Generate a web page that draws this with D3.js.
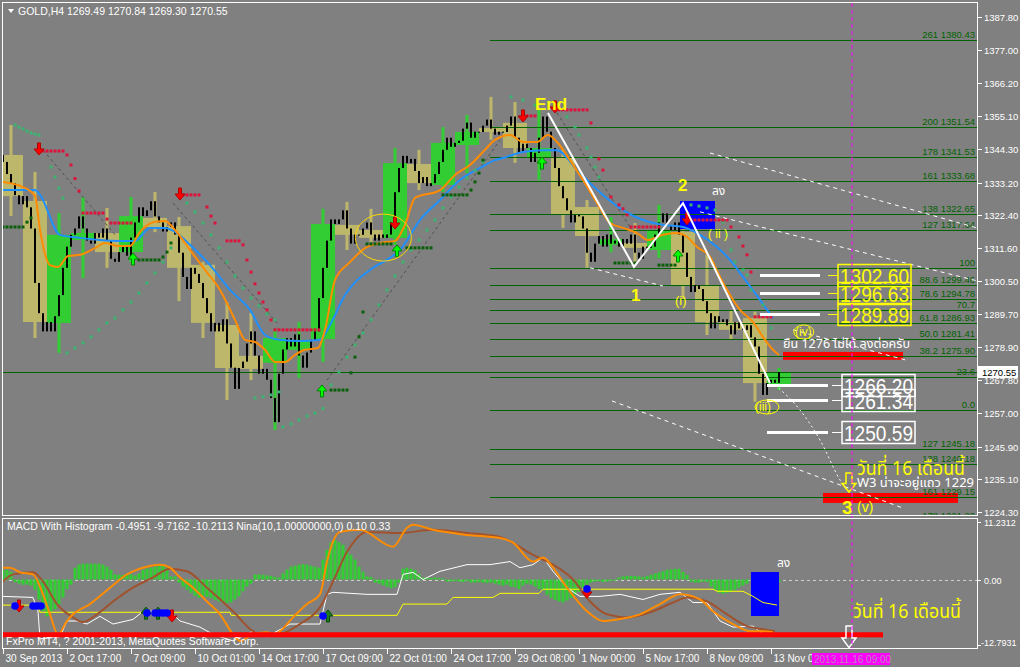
<!DOCTYPE html>
<html><head><meta charset="utf-8">
<script src="https://cdn.jsdelivr.net/npm/d3@7"></script>
<style>
html,body{margin:0;padding:0;background:#808080;overflow:hidden;}
svg{display:block;}
text{font-family:"Liberation Sans",Arial,sans-serif;}
.thai{font-family:"Noto Sans Thai","Tahoma","DejaVu Sans","Noto Sans",sans-serif;}
</style></head><body>
<svg id="c" width="1020" height="667"></svg>
<script>
// ---------------- DATA ----------------
const dayOpen  = [1342.3,1327.1,1286.8,1314.2,1316.5,1310.2,1321.5,1318.8,1306.0,1286.1,1275.9,1273.6,1277.9,1281.5,1319.2,1317.5,1314.9,1339.3,1332.4,1345.6,1351.2,1352.9,1341.3,1341.3,1325.1,1312.6,1313.2,1310.9,1316.9,1299.3,1287.1,1288.4,1266.3];
const dayHigh  = [1352.2,1336.7,1323.1,1328.4,1324.8,1328.4,1330.1,1321.8,1307.0,1293.7,1290.1,1284.5,1287.1,1324.5,1326.8,1324.5,1344.6,1344.0,1351.5,1355.5,1361.5,1359.8,1357.8,1344.0,1327.4,1321.8,1319.8,1325.8,1325.8,1309.3,1291.1,1290.5,1271.9];
const dayLow   = [1322.1,1281.8,1276.9,1301.6,1305.0,1306.9,1316.8,1294.0,1281.8,1261.3,1267.9,1251.4,1268.6,1273.9,1310.9,1313.5,1312.6,1330.7,1330.1,1336.3,1347.3,1339.7,1334.0,1318.2,1305.0,1310.2,1306.9,1308.3,1294.4,1282.8,1281.2,1260.7,1264.6];
const dayClose = [1328.7,1287.1,1315.9,1316.5,1310.2,1322.1,1318.5,1305.0,1286.8,1271.9,1271.6,1281.8,1281.2,1319.5,1315.9,1314.9,1339.6,1333.0,1346.3,1349.9,1349.9,1344.6,1344.6,1322.5,1315.5,1314.5,1311.6,1317.5,1299.3,1287.1,1284.5,1266.9,1270.55];

const h4Close = [
 1340,1336,1333,1329,1326,1328.7, 1325,1318,1300,1290,1284,1287.1, 1284,1289,1296,1305,1312,1315.9,
 1318,1322,1318,1314,1313,1316.5, 1315,1318,1314,1308,1307,1310.2, 1312,1309,1315,1320,1325,1322.1,
 1324,1327,1322,1320,1317,1318.5, 1320,1316,1310,1302,1298,1305.0, 1303,1300,1295,1290,1284,1286.8,
 1284,1288,1280,1272,1265,1271.9, 1274,1280,1284,1276,1270,1271.6, 1268,1262,1254,1270,1278,1281.8,
 1279,1283,1276,1272,1277,1281.2, 1284,1295,1305,1314,1321,1319.5, 1321,1324,1318,1313,1316,1315.9,
 1318,1320,1316,1314,1316,1314.9, 1316,1320,1330,1338,1342,1339.6, 1341,1337,1333,1335,1332,1333.0,
 1336,1340,1344,1348,1345,1346.3, 1347,1351,1353,1348,1350,1349.9, 1352,1354,1351,1349,1350,1349.9,
 1352,1355,1348,1343,1346,1344.6, 1340,1343,1348,1355,1350,1344.6, 1338,1332,1328,1324,1320,1322.5,
 1322,1318,1310,1307,1313,1315.5, 1312,1316,1313,1314,1312,1314.5, 1313,1316,1310,1308,1312,1311.6,
 1312,1316,1320,1323,1319,1317.5, 1320,1316,1310,1302,1297,1299.3, 1298,1294,1290,1285,1289,1287.1,
 1288,1286,1283,1287,1285,1284.5, 1286,1282,1279,1270,1263,1266.9, 1268,1267,1270.55];

const priceTicks = [1387.80,1377.00,1366.20,1355.10,1344.30,1333.20,1322.40,1311.60,1300.50,1289.70,1278.90,1267.80,1257.00,1245.90,1235.10,1224.30];
const timeLabels = ["30 Sep 2013","2 Oct 17:00","7 Oct 09:00","10 Oct 01:00","14 Oct 17:00","17 Oct 09:00","22 Oct 01:00","24 Oct 17:00","29 Oct 08:00","1 Nov 00:00","5 Nov 17:00","8 Nov 09:00","13 Nov 01:00"];
const timeLabelBars = [0,16,32,48,64,80,96,112,128,144,160,176,192];

const emaFast = [[0,1333.4],[5,1331.7],[8,1328.8],[9.25,1317.5],[11.75,1305.9],[13.75,1305.3],[16.25,1308.9],[19.25,1309.3],[23,1311.5],[25.5,1313.2],[28.75,1312.2],[31.75,1312.2],[34.25,1316.9],[38,1320.2],[40.5,1320.5],[43,1317.5],[46.75,1310.9],[50.5,1304.3],[54.25,1297.7],[58,1287.8],[60.5,1281.2],[63,1280.5],[65.5,1277.9],[68,1273.9],[70.5,1273.9],[73,1276.2],[75.5,1277.9],[78.75,1278.5],[80.5,1284.5],[83,1301.0],[86.75,1306.9],[90.5,1311.5],[94.25,1313.2],[98,1313.9],[100.5,1319.2],[103,1328.1],[109.25,1330.7],[113,1335.7],[116.75,1339.0],[120.5,1344.0],[123,1347.3],[126.75,1348.9],[130,1346.6],[133.5,1346.6],[136.25,1348.9],[138.5,1346.6],[141.75,1340.6],[145,1334.0],[148.5,1326.4],[151.75,1319.8],[155,1318.2],[158.5,1316.5],[161.25,1314.2],[165,1315.9],[168.5,1316.5],[171,1315.2],[173.5,1311.9],[176.75,1308.6],[179.25,1302.0],[184.25,1291.1],[187.5,1287.1],[190,1282.1],[192.5,1277.9],[194,1276.2]];
const emaSlow = [[0,1330.7],[8,1330.7],[9.25,1329.1],[14.25,1315.9],[19.25,1314.9],[24.25,1314.2],[29.25,1313.9],[33,1313.9],[36.75,1318.2],[40.5,1318.2],[43,1316.9],[46.75,1312.6],[51.75,1305.9],[56.75,1297.7],[61.75,1291.1],[65.5,1282.8],[69.25,1281.2],[74.25,1280.8],[79.25,1281.2],[81.75,1286.1],[85.5,1296.0],[91.75,1304.3],[96.75,1308.3],[99.25,1310.9],[104.25,1320.8],[109.25,1327.4],[114.25,1334.0],[119.25,1338.0],[123,1340.6],[125,1341.3],[130,1343.3],[135,1343.9],[138.5,1343.9],[143.5,1337.3],[146.75,1333.0],[150,1329.1],[155,1324.1],[160,1320.8],[165,1319.2],[170,1318.5],[173.5,1316.5],[178.5,1311.9],[181.75,1307.6],[185,1302.0],[189.25,1294.4],[192.5,1288.4]];

const sarRed = [[9,1343.6],[10,1343.6],[11,1343.6],[12,1343.6],[13,1343.6],[14,1343.6],[15,1343.6],[16,1342.3],[17,1339.0],[18,1334.5],[19,1330.4],
 [20,1323.1],[21,1323.1],[22,1323.1],[23,1323.1],[24,1323.1],[25,1323.1],[26,1321.1],[27,1319.8],[28,1319.8],[29,1319.8],[30,1319.8],[31,1319.8],[32,1319.8],
 [44,1329.1],[45,1329.1],[46,1329.1],[47,1329.1],[48,1329.1],[49,1329.1],[51,1325.1],[52,1322.1],[53,1319.8],[56,1313.9],[57,1313.9],[58,1313.9],[59,1313.9],[60,1312.6],[61,1307.6],[62,1303.6],[63,1299.7],[64,1296.7],[65,1293.7],[66,1291.1],[67,1287.8],
 [68,1284.5],[69,1284.5],[70,1284.5],[71,1284.5],[72,1284.5],[73,1284.5],[74,1284.5],[75,1284.5],[76,1284.5],[77,1284.5],[78,1284.5],[79,1284.5],
 [130,1355.2],[131,1355.2],[132,1355.2],[133,1355.2],[138,1357.2],[139,1357.2],[140,1357.2],[141,1357.2],[142,1357.2],[143,1357.2],[144,1357.2],[145,1357.2],[146,1357.2],
 [147,1352.9],[149,1341.0],[150,1337.3],[152,1328.4],[154,1325.8],[155,1324.5],[156,1322.5],
 [157,1318.5],[158,1318.5],[159,1318.5],[160,1318.5],[161,1318.5],[162,1318.5],[163,1318.5],[164,1318.5],
 [172,1320.8],[173,1320.8],[174,1320.8],[175,1320.8],[176,1320.8],[177,1320.8],[178,1320.8],[179,1320.8],[180,1320.8],[181,1320.8],
 [182,1318.5],[184,1315.2],[185,1312.2],[186,1309.3],[187,1303.6],[188,1288.8],[189,1288.8],[190,1288.8],[191,1288.8],[192,1288.8]];
const sarGreen = [[0,1318.5],[1,1318.5],[2,1318.5],[3,1318.5],[4,1318.5],[5,1318.5],[6,1320.1],[7,1321.5],
 [34,1307.6],[35,1307.6],[36,1307.6],[37,1307.6],[38,1307.6],[39,1307.6],[40,1308.6],[41,1310.2],[42,1313.2],
 [82,1264.6],[83,1264.6],[84,1264.6],[85,1264.6],[86,1264.6],[87,1270.3],[88,1275.5],[89,1282.2],[90,1290.4],
 [91,1312.9],[92,1312.9],[93,1312.9],[94,1312.9],[95,1312.9],[96,1312.9],[97,1312.9],
 [101,1311.6],[102,1311.6],[103,1311.6],[104,1311.6],[105,1311.6],[106,1311.6],[107,1311.6],
 [110,1329.1],[111,1329.1],[112,1329.1],[113,1329.1],[114,1329.1],[115,1329.1],[116,1329.1],[117,1330.7],[118,1333.4],[119,1336.3],[120,1340.6],
 [153,1306.6],[154,1306.6],[155,1306.6],[156,1306.6],[157,1306.6],[158,1306.6],
 [164,1305.9],[165,1305.9],[166,1305.9],[167,1305.9],[168,1305.9]];
const sarTeal = [[3,1352.2],[4,1351.5],[5,1350.9],[6,1350.2],[7,1349.6],[8,1349.2],[9,1348.9],[12,1338.3],[13,1335.0],[14,1331.3],[15,1328.0],
 [16,1276.9],[18,1278.5],[20,1280.2],[22,1282.2],[24,1284.5],[26,1286.8],[28,1288.4],[30,1291.1],[32,1293.7],[34,1296.7],[36,1300.0],[38,1303.3],[40,1306.9],[42,1311.6],
 [46,1326.4],[48,1323.5],[50,1319.8],[52,1315.9],[54,1311.6],[56,1306.9],[58,1302.3],[60,1298.3],[62,1295.0],[64,1292.4],[66,1289.8],[68,1287.8],
 [63,1262.0],[65,1262.4],[67,1263.0],[69,1264.0],[70,1252.4],[72,1253.4],[74,1254.7],[76,1256.0],[78,1257.0],[80,1258.5],
 [82,1266.3],[84,1270.6],[86,1275.5],[88,1279.5],[90,1283.5],[92,1287.8],[94,1292.7],[96,1297.7],[98,1302.3],[100,1306.9],[102,1310.9],[104,1314.2],[106,1317.5],[108,1320.8],[110,1324.8],[112,1328.4],[114,1331.7],[116,1334.7],[118,1337.3],[120,1340.0],
 [127,1361.5],[130,1360.5],[133,1358.8],[141,1354.9],[143,1351.5],[144,1348.9],[146,1344.6],[147,1341.6],[148,1338.3],[149,1335.0],
 [172,1325.8],[174,1325.4],[176,1324.8],[178,1324.1],[180,1320.2],[181,1315.9],[182,1310.9],[183,1306.9],[185,1304.3],[186,1302.6],[187,1297.7],[190,1292.7],[192,1285.1]];

const greyLines = [[[10,1343.9],[28.5,1315.2]],[[42.5,1326.4],[68.5,1286.8]],[[81,1267.9],[124.25,1347.2]],[[138.5,1356.2],[156.75,1318.5]]];
const arrowsDown = [[9,1342.3],[44.25,1327.4],[98,1317.8],[130,1353.2],[138,1356.2],[171,1319.2]];
const arrowsUp = [[32.5,1309.9],[79.75,1266.3],[98.5,1312.6],[134.75,1341.6],[168.75,1310.9]];

const fibLevels = ["261","200","178","161","138","127","100","88.6","78.6","70.7","61.8","50.0","38.2","23.6","0.0","127","138","161","178"];
const fibPrices = [1380.43,1351.54,1341.53,1333.68,1322.65,1317.64,1304.80,1299.46,1294.78,1291.10,1286.93,1281.41,1275.90,1269.05,1258.00,1245.18,1240.18,1229.15,1221.20];
const fibShowPrice = [1,1,1,1,1,1,0,1,1,0,1,1,1,0,0,1,1,1,1];
const fibStartBar = 121.75;

const waveZigzag = [[136.25,1356.2],[157.75,1305.3],[170,1326.4],[191.75,1266.9]];
const projection = [[193,1266.3],[199.25,1258.0],[204.25,1248.1],[209.25,1234.9],[211.25,1231.0]];
const dashedLines = [[[176.75,1342.96],[243.5,1318.2]],[[174.25,1323.5],[243.5,1300.7]],[[152.25,1261.0],[225,1225.6]],[[197.5,1284.5],[225.5,1274.6]],[[146.75,1305.0],[165,1299.0]]];

const yellowMarks = [1302.60,1296.63,1289.89];
const whiteMarks = [1266.20,1261.34,1250.59];
const lastPrice = 1270.55;

// MACD window
const macdHist = [1.9,1.9,1.5,-0.5,-0.8,-1.0,-1.0,-1.2,-2.0,-3.9,-6.2,-7.2,-6.2,-5.8,-4.8,-3.5,-1.9,-1.0,2.3,2.9,3.1,3.1,3.1,3.1,3.1,2.9,2.5,1.9,1.0,0.9,0.9,1.0,1.0,0.8,1.2,1.9,2.1,2.3,2.5,2.7,2.7,2.3,0.6,0.6,-0.6,-1.4,-2.0,-2.6,-3.2,-3.6,-3.2,-3.4,-3.6,-4.0,-4.3,-4.5,-4.6,-4.5,-3.9,-3.3,-2.3,-1.4,-0.8,1.0,1.0,0.9,0.8,0.7,0.5,0.4,1.2,1.9,2.5,2.7,2.9,3.0,2.9,2.7,2.5,2.3,3.9,5.8,7.2,7.7,7.3,6.8,5.8,4.8,3.9,2.5,1.5,0.6,0.5,-0.6,-0.8,-1.1,-1.4,-1.7,-1.5,-0.6,2.1,2.3,2.1,1.8,1.1,0.4,0.4,0.3,0.4,0.3,0.2,-0.4,-0.4,-0.3,-0.4,-0.5,-0.3,-0.6,-0.6,-0.5,-0.6,-0.7,-0.6,-0.8,-1.0,-1.2,-1.0,-1.4,-1.5,-1.9,-1.2,-0.8,-1.0,-1.4,-1.9,-2.0,-3.0,-3.6,-4.0,-4.3,-4.5,-4.1,-3.6,-3.0,-2.4,-1.6,-1.0,-0.6,-0.4,-0.3,-0.5,-0.4,-0.3,-0.2,0.4,0.6,0.7,0.7,0.7,0.6,0.5,0.7,0.9,1.2,1.4,1.6,1.9,2.0,2.1,2.1,1.5,0.9,-0.4,-0.6,-0.6,-0.4,-0.5,-1.4,-2.0,-2.6,-2.8,-2.6,-2.4,-2.0,-1.6,-1.2,-0.8,0.1,-0.5,-0.7,-0.6,-0.9,-0.6,-0.5,-0.5];
const macdOrange = [[0,2.3],[1.75,2.3],[4.25,1.4],[7.5,1.0],[10,-2.9],[11.75,-6.8],[13.75,-10.7],[16,-8.1],[17.5,-6.8],[21.75,-4.8],[26.75,-1.6],[31,1.0],[35,2.3],[39.25,2.9],[41.75,2.3],[44.25,0.4],[47.5,-1.6],[51,-4.3],[54.25,-6.8],[57.5,-10.7],[59.25,-12.0],[62.5,-10.7],[66,-10.3],[67.5,-10.7],[69.25,-10.1],[72.5,-7.4],[76,-4.8],[79.25,-2.9],[81,3.5],[82.5,7.4],[84.25,9.3],[89.25,9.7],[97.5,6.4],[101,10.1],[102.5,10.7],[107.5,9.7],[116,8.7],[124.25,8.1],[127.5,7.2],[132.5,3.5],[135,4.3],[137.5,2.3],[141,-1.6],[146,-6.2],[150,-8.1],[153.5,-7.8],[159.25,-6.8],[164.25,-4.8],[169.25,-2.9],[174.25,-3.9],[177.5,-6.2],[182.5,-8.7],[186.75,-10.1],[190,-10.1],[192.5,-10.3]];
const macdBrown = [[0,-0.4],[2.5,1.0],[7.5,1.4],[10,-0.4],[13.5,-4.8],[17.5,-7.4],[20,-8.3],[23.5,-6.8],[27.5,-4.3],[32.5,-1.6],[37.5,0.4],[41.75,2.1],[46,1.6],[51,-1.6],[57.5,-6.2],[62.5,-10.1],[66,-11.0],[69.25,-10.7],[74.25,-8.7],[79.25,-5.4],[82.5,-0.4],[86,5.4],[91,9.3],[99.25,9.1],[107.5,9.7],[116,9.1],[124.25,8.3],[132.5,4.8],[137.5,2.9],[142.5,0],[146.75,-4.3],[151,-6.8],[156,-7.4],[161.75,-6.4],[167.5,-4.5],[171,-3.5],[176,-4.3],[181,-6.8],[186,-9.1],[190,-9.7],[193,-10.1]];
const macdWhite = [[0,-3.3],[7.5,-3.5],[8.75,-6.2],[9.25,-11.6],[14.25,-11.2],[16,-8.1],[18.5,-8.1],[21,-8.7],[24.25,-7.2],[27.5,-8.7],[32.5,-7.8],[35,-6.2],[41.75,-6.2],[44.25,-8.1],[49.25,-9.3],[52.5,-10.7],[57.5,-12.0],[62.5,-10.1],[66,-11.2],[68.5,-10.1],[71.75,-8.7],[79.25,-8.7],[81,-2.9],[82.5,-2.5],[91,-2.9],[98.5,-2.9],[100,1.0],[102.5,1.4],[105,0],[109.25,1.6],[116,2.9],[121.75,2.9],[126.75,3.5],[129.25,2.3],[132.5,2.9],[135,4.3],[137.5,1.6],[141,-1.6],[144.25,-3.3],[149.25,-3.3],[154.25,-2.9],[160,-3.9],[164.25,-2.9],[169.25,-2.5],[172.5,-4.5],[176,-4.5],[179.25,-8.1],[182.5,-9.3],[187.5,-9.1],[190,-10.7],[191.75,-11.2]];
const macdYellow = [[0,-5.0],[8.5,-5.0],[9.25,-6.4],[56.75,-6.4],[57,-7.0],[98.5,-7.0],[100,-4.8],[111,-4.8],[112.5,-3.5],[122.5,-3.5],[124.25,-2.7],[134,-2.7],[135,-1.9],[177.5,-1.9],[178.5,-2.3],[185,-2.3],[187.5,-3.3],[190,-4.5],[193.5,-5.0]];
const macdBlueDots = [[3,-5.17],[7.5,-5.17],[8.5,-5.17],[9.5,-5.17],[36,-6.54],[38,-6.54],[39,-6.54],[40,-6.54],[41,-6.54],[80,-7.13],[146,-1.86]];
const macdDownArrows = [[4,-6.35],[42.25,-8.3],[146,-3.6]];
const macdUpArrows = [[35.75,-5.4],[38.75,-5.4],[81.25,-5.95]];
const macdRange = [-12.7931, 11.2312];

// ---------------- DRAW ----------------
const svg = d3.select("#c");
const x = d3.scaleLinear().domain([0,243.5]).range([3,977]);
const y = d3.scaleLinear().domain([1224.3,1387.8]).range([512,17.3]);
const ym = d3.scaleLinear().domain(macdRange).range([645,522]);

svg.append("rect").attr("width",1020).attr("height",667).attr("fill","#808080");
const defs = svg.append("defs");
defs.append("clipPath").attr("id","cm").append("rect").attr("x",3).attr("y",3).attr("width",974).attr("height",512);
defs.append("clipPath").attr("id","cd").append("rect").attr("x",3).attr("y",519).attr("width",974).attr("height",129);

const gm = svg.append("g").attr("clip-path","url(#cm)");
const gd = svg.append("g").attr("clip-path","url(#cd)");

const KHAKI="#BDB76B", GREEN="#32CD32", FIB="#006400";

// D1 candles as boxes
const days = d3.range(dayOpen.length);
gm.selectAll(".dw").data(days).join("rect")
  .attr("x",k=>x(6*k+2)-1.5).attr("width",3)
  .attr("y",k=>y(dayHigh[k])).attr("height",k=>y(dayLow[k])-y(dayHigh[k]))
  .attr("fill",k=>dayClose[k]>=dayOpen[k]?GREEN:KHAKI);
gm.selectAll(".db").data(days).join("rect")
  .attr("x",k=>x(6*k-1)).attr("width",x(6)-x(0))
  .attr("y",k=>y(Math.max(dayOpen[k],dayClose[k])))
  .attr("height",k=>Math.max(1,Math.abs(y(dayOpen[k])-y(dayClose[k]))))
  .attr("fill",k=>dayClose[k]>=dayOpen[k]?GREEN:KHAKI);

// blue rectangle near wave 2
gm.append("rect").attr("x",x(169.25)).attr("width",x(178)-x(169.25)).attr("y",y(1327.1)).attr("height",y(1317.8)-y(1327.1)).attr("fill","#0000FF");

// red bars
gm.append("rect").attr("x",x(195)).attr("width",x(225)-x(195)).attr("y",y(1277.2)).attr("height",y(1274.6)-y(1277.2)).attr("fill","#FF0000");
gm.append("rect").attr("x",x(205)).attr("width",x(238.75)-x(205)).attr("y",y(1230.6)).attr("height",y(1227.3)-y(1230.6)).attr("fill","#FF0000");

// fib lines
const fibIdx = d3.range(fibPrices.length);
gm.selectAll(".fl").data(fibIdx).join("line")
  .attr("x1",x(fibStartBar)).attr("x2",977)
  .attr("y1",i=>Math.round(y(fibPrices[i]))+0.5).attr("y2",i=>Math.round(y(fibPrices[i]))+0.5)
  .attr("stroke",FIB).attr("stroke-width",1);
gm.selectAll(".ft").data(fibIdx).join("text")
  .attr("x",975).attr("y",i=>Math.round(y(fibPrices[i]))-2)
  .attr("text-anchor","end").attr("font-size",9.5).attr("fill",FIB)
  .text(i=>fibShowPrice[i]?fibLevels[i]+"  "+fibPrices[i].toFixed(2):fibLevels[i]);

// current price line
gm.append("line").attr("x1",3).attr("x2",977).attr("y1",Math.round(y(lastPrice))+0.5).attr("y2",Math.round(y(lastPrice))+0.5).attr("stroke",FIB);

// grey dashed trend lines
gm.selectAll(".gl").data(greyLines).join("line")
  .attr("x1",d=>x(d[0][0])).attr("y1",d=>y(d[0][1])).attr("x2",d=>x(d[1][0])).attr("y2",d=>y(d[1][1]))
  .attr("stroke","#505050").attr("stroke-dasharray","3,3");

// H4 bars
gm.selectAll(".h4").data(h4Close).join("rect")
  .attr("x",(c,i)=>x(i)-1).attr("width",2)
  .attr("y",(c,i)=>{const o=i?h4Close[i-1]:dayOpen[0];return y(Math.max(o,c));})
  .attr("height",(c,i)=>{const o=i?h4Close[i-1]:dayOpen[0];return Math.max(1,Math.abs(y(o)-y(c)));})
  .attr("fill","#000");

// MAs
const ln = d3.line().x(d=>x(d[0])).y(d=>y(d[1])).curve(d3.curveMonotoneX);
gm.append("path").attr("d",ln(emaSlow)).attr("fill","none").attr("stroke","#1E90FF").attr("stroke-width",2);
gm.append("path").attr("d",ln(emaFast)).attr("fill","none").attr("stroke","#FF8C00").attr("stroke-width",2);

// SAR dots
function dots(data,col){
  gm.selectAll(null).data(data).join("rect").attr("x",d=>x(d[0])-1.5).attr("y",d=>y(d[1])-1.5).attr("width",3).attr("height",3).attr("fill",col);
}
dots(sarTeal,"#3CB371"); dots(sarGreen,"#0B5F0B"); dots(sarRed,"#DC143C");

// arrows
function arrow(g,cx,ty,dir,fill,stroke){
  const s=dir; // 1 = down (tip at bottom), -1 = up
  const p=[[cx-1.5,ty-12*s],[cx+1.5,ty-12*s],[cx+1.5,ty-6*s],[cx+5,ty-6*s],[cx,ty],[cx-5,ty-6*s],[cx-1.5,ty-6*s]];
  g.append("path").attr("d","M"+p.map(q=>q.join(",")).join("L")+"Z").attr("fill",fill).attr("stroke",stroke||"none").attr("stroke-width",1);
}
arrowsDown.forEach(d=>arrow(gm,x(d[0]),y(d[1]),1,"#FF0000","#B00000"));
arrowsUp.forEach(d=>arrow(gm,x(d[0]),y(d[1]),-1,"#00FF00","#008000"));

// yellow circle
gm.append("ellipse").attr("cx",x(95.1)).attr("cy",y(1315.0)).attr("rx",28).attr("ry",23.5).attr("fill","none").attr("stroke","#FFD700").attr("stroke-width",1);

// white dashed lines
gm.selectAll(".wd").data(dashedLines).join("line")
  .attr("x1",d=>x(d[0][0])).attr("y1",d=>y(d[0][1])).attr("x2",d=>x(d[1][0])).attr("y2",d=>y(d[1][1]))
  .attr("stroke","#fff").attr("stroke-dasharray","4,4");
// wave zigzag
gm.append("path").attr("d",d3.line().x(d=>x(d[0])).y(d=>y(d[1]))(waveZigzag)).attr("fill","none").attr("stroke","#fff").attr("stroke-width",2);
gm.append("path").attr("d",d3.line().x(d=>x(d[0])).y(d=>y(d[1])).curve(d3.curveMonotoneX)(projection)).attr("fill","none").attr("stroke","#fff").attr("stroke-dasharray","2,3");

// magenta vertical line
svg.append("line").attr("x1",x(212.25)).attr("x2",x(212.25)).attr("y1",3).attr("y2",650).attr("stroke","#FF00FF").attr("stroke-dasharray","4,3");

// price marks
function marks(vals,col,lx1,lx2,tx1,tx2,bx1,bx2){
  vals.forEach(v=>{
    const yy=Math.round(y(v))+0.5;
    gm.append("line").attr("x1",x(lx1)).attr("x2",x(lx2)).attr("y1",yy).attr("y2",yy).attr("stroke","#fff").attr("stroke-width",3);
    gm.append("line").attr("x1",x(tx1)).attr("x2",x(tx2)).attr("y1",yy).attr("y2",yy).attr("stroke",col).attr("stroke-width",1);
    gm.append("rect").attr("x",x(bx1)).attr("y",yy-11).attr("width",x(bx2)-x(bx1)).attr("height",22).attr("fill","none").attr("stroke",col).attr("stroke-width",1.5);
    gm.append("text").attr("x",(x(bx1)+x(bx2))/2).attr("y",yy+8).attr("text-anchor","middle").attr("font-size",22)
      .attr("textLength",x(bx2)-x(bx1)-4).attr("lengthAdjust","spacingAndGlyphs").attr("fill",col).text(v.toFixed(2));
  });
}
marks(yellowMarks,"#FFFF00",189.25,204.25,206.25,208.75,208.75,227);
marks(whiteMarks,"#FFFFFF",191,206.25,207.25,209.75,209.75,228);

// annotations
function txt(g,i,v,s,opt){
  const t=g.append("text").attr("x",x(i)).attr("y",(opt.sc||y)(v)).text(s)
   .attr("fill",opt.fill||"#FFFF00").attr("font-size",opt.size||12);
  if(opt.serif) t.attr("font-family","Liberation Serif, serif");
  if(opt.bold) t.attr("font-weight","bold");
  if(opt.cls) t.attr("class",opt.cls);
  if(opt.len) t.attr("textLength",opt.len).attr("lengthAdjust","spacingAndGlyphs");
  return t;
}
txt(gm,133,1357.2,"End",{serif:1,bold:1,size:17});
txt(gm,168.75,1330.4,"2",{serif:1,bold:1,size:17});
txt(gm,157,1294.0,"1",{serif:1,bold:1,size:17});
txt(gm,209.75,1223.6,"3",{serif:1,bold:1,size:19});
txt(gm,213.5,1224.3,"(v)",{serif:1,size:14});
txt(gm,168,1292.7,"(i)",{serif:1,size:13});
txt(gm,176.25,1314.9,"( ii )",{serif:1,size:12});
txt(gm,188,1257.7,"(iii)",{serif:1,size:12});
txt(gm,198,1282.5,"(iv)",{serif:1,size:12});
gm.append("ellipse").attr("cx",x(200.2)).attr("cy",y(1283.8)).attr("rx",10).attr("ry",7).attr("fill","none").attr("stroke","#FFFF00");
gm.append("ellipse").attr("cx",x(191)).attr("cy",y(1259.0)).attr("rx",12).attr("ry",7).attr("fill","none").attr("stroke","#FFFF00");
txt(gm,177.25,1329.1,"ลง",{fill:"#fff",size:12,cls:"thai"});
txt(gm,195,1278.5,"ยืน 1276 ไม่ได้ ลงต่อครับ",{fill:"#fff",size:13,cls:"thai",len:127});
txt(gm,213.5,1236.5,"วันที่ 16 เดือนนี้",{fill:"#FFFF00",size:20,cls:"thai",len:108});
txt(gm,213.5,1232.6,"W3 น่าจะอยู่แถว 1229",{fill:"#fff",size:12.5,cls:"thai",len:117});

// hollow arrow
function hollow(g,cx,top,tip,col){
  const mid=top+(tip-top)*0.55;
  const p=[[cx-3,top],[cx+3,top],[cx+3,mid],[cx+7,mid],[cx,tip],[cx-7,mid],[cx-3,mid]];
  g.append("path").attr("d","M"+p.map(q=>q.join(",")).join("L")+"Z").attr("fill","none").attr("stroke",col).attr("stroke-width",1.5);
}
hollow(gm,x(211.5),y(1237.2),y(1230.9),"#FFFF00");

// header
svg.append("path").attr("d","M8,9L14,9L11,13Z").attr("fill","#fff");
svg.append("text").attr("x",18).attr("y",15).attr("font-size",10.5).attr("fill","#fff").text("GOLD,H4  1269.49 1270.84 1269.30 1270.55");

// ---- MACD window ----
gd.append("line").attr("x1",3).attr("x2",977).attr("y1",Math.round(ym(0))+0.5).attr("y2",Math.round(ym(0))+0.5).attr("stroke","#D0D0D0").attr("stroke-dasharray","3,3");
gd.selectAll(".hb").data(macdHist).join("rect")
  .attr("x",(v,i)=>x(i)-1.5).attr("width",3)
  .attr("y",v=>ym(Math.max(0,v))).attr("height",v=>Math.abs(ym(v)-ym(0)))
  .attr("fill","#32CD32");
gd.append("rect").attr("x",x(187)).attr("width",x(194)-x(187)).attr("y",ym(1.46)).attr("height",ym(-7.13)-ym(1.46)).attr("fill","#0000FF");
const lm = d3.line().x(d=>x(d[0])).y(d=>ym(d[1]));
gd.append("path").attr("d",lm(macdYellow)).attr("fill","none").attr("stroke","#FFFF00").attr("stroke-width",1);
gd.append("path").attr("d",lm(macdWhite)).attr("fill","none").attr("stroke","#fff").attr("stroke-width",1);
const lmc = d3.line().x(d=>x(d[0])).y(d=>ym(d[1])).curve(d3.curveMonotoneX);
gd.append("path").attr("d",lmc(macdBrown)).attr("fill","none").attr("stroke","#A0522D").attr("stroke-width",2);
gd.append("path").attr("d",lmc(macdOrange)).attr("fill","none").attr("stroke","#FF8C00").attr("stroke-width",2);
gd.append("rect").attr("x",3).attr("width",x(220)-3).attr("y",ym(-10.3)).attr("height",ym(-11.3)-ym(-10.3)).attr("fill","#FF0000");
macdDownArrows.forEach(d=>arrow(gd,x(d[0]),ym(d[1]),1,"#FF0000","#B00000"));
macdUpArrows.forEach(d=>arrow(gd,x(d[0]),ym(d[1]),-1,"#1E7A1E","#005000"));
gd.selectAll(".bd").data(macdBlueDots).join("circle").attr("cx",d=>x(d[0])).attr("cy",d=>ym(d[1])).attr("r",3.8).attr("fill","#0000FF");
txt(gd,193.5,2.44,"ลง",{fill:"#fff",size:12,cls:"thai",sc:ym});
txt(gd,212.5,-7.52,"วันที่ 16 เดือนนี้",{fill:"#FFFF00",size:20,cls:"thai",sc:ym,len:108});
hollow(gd,x(211.5),ym(-9.1),ym(-13.3),"#fff");
svg.append("text").attr("x",7).attr("y",530).attr("font-size",10.5).attr("fill","#fff").text("MACD With Histogram -0.4951 -9.7162 -10.2113  Nina(10,1.00000000,0) 0.10 0.33");
svg.append("text").attr("x",6).attr("y",645).attr("font-size",10.5).attr("fill","#fff").text("FxPro MT4, ? 2001-2013, MetaQuotes Software Corp.");

// ---- frames ----
const fr = svg.append("g").attr("fill","none").attr("stroke","#fff").attr("stroke-width",1);
fr.append("rect").attr("x",2.5).attr("y",2.5).attr("width",975).attr("height",513);
fr.append("rect").attr("x",2.5).attr("y",518.5).attr("width",975).attr("height",130);

// ---- price axis ----
const pa = svg.append("g");
priceTicks.forEach(v=>{
  const yy=Math.round(y(v))+0.5;
  pa.append("line").attr("x1",978).attr("x2",982).attr("y1",yy).attr("y2",yy).attr("stroke","#fff");
  pa.append("text").attr("x",984).attr("y",yy+3.5).attr("font-size",9.5).attr("fill","#fff").text(v.toFixed(2));
});
const ly=Math.round(y(lastPrice));
pa.append("rect").attr("x",978).attr("y",ly-6).attr("width",40).attr("height",12).attr("fill","#fff");
pa.append("text").attr("x",982).attr("y",ly+3.5).attr("font-size",9.5).attr("fill","#000").text(lastPrice.toFixed(2));
[[macdRange[1],macdRange[1].toFixed(4),0,984],[0,"0.00",0,984],[macdRange[0],macdRange[0].toFixed(4),-3,981]].forEach(d=>{
  const yy=Math.round(ym(d[0]))+0.5;
  pa.append("line").attr("x1",978).attr("x2",981).attr("y1",yy).attr("y2",yy).attr("stroke","#fff");
  pa.append("text").attr("x",d[3]).attr("y",yy+3.5+d[2]).attr("font-size",9).attr("fill","#fff").text(d[1]);
});

// ---- time axis ----
const ta = svg.append("g");
timeLabelBars.forEach((b,k)=>{
  const xx=Math.round(x(b))+0.5;
  ta.append("line").attr("x1",xx).attr("x2",xx).attr("y1",649).attr("y2",654).attr("stroke","#fff");
  ta.append("text").attr("x",xx+2).attr("y",662).attr("font-size",10).attr("fill","#fff").text(timeLabels[k]);
});
ta.append("rect").attr("x",x(202.25)).attr("y",653).attr("width",x(221.75)-x(202.25)).attr("height",12).attr("fill","#FF00FF");
ta.append("text").attr("x",x(202.25)+2).attr("y",662.5).attr("font-size",10).attr("fill","#C080C0").text("2013.11.16 09:00");
</script>
</body></html>
